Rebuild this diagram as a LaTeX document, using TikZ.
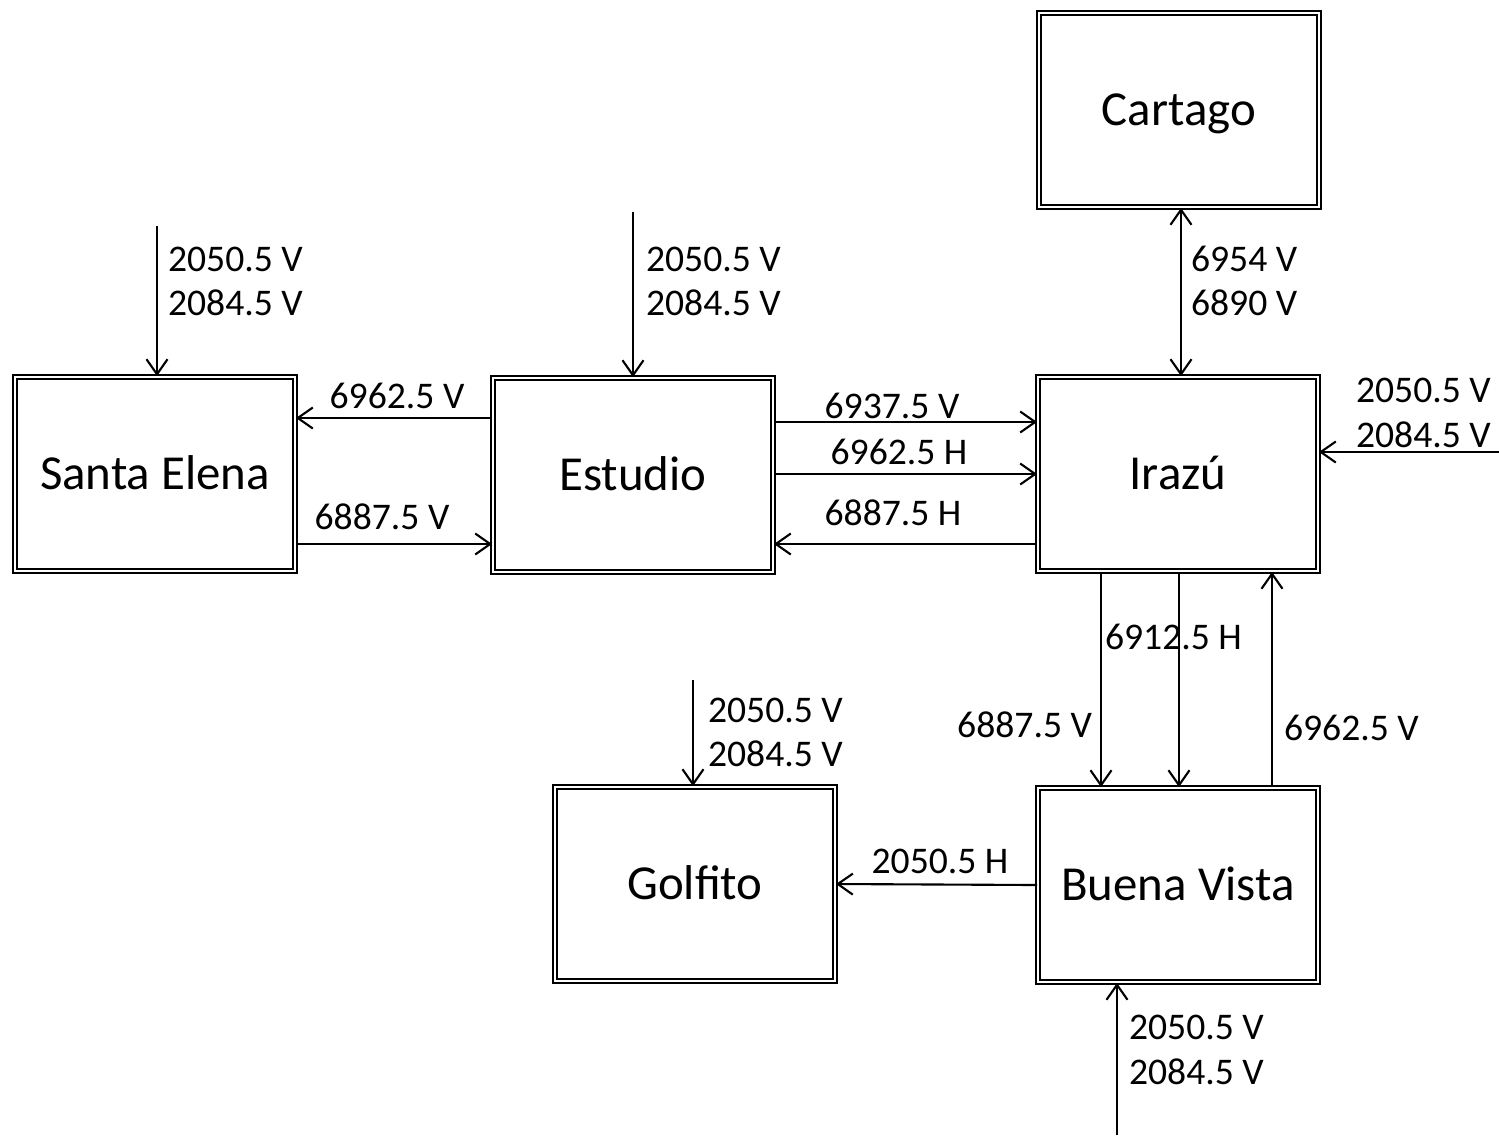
\documentclass[tikz,border=0pt]{standalone}
\usepackage{fontspec}
\setmainfont{Carlito}
\usepackage{tikz}
\usetikzlibrary{positioning,arrows.meta,calc}

\begin{document}
\begin{tikzpicture}[x=0.01cm,y=-0.01cm,line width=0.6pt,
  box/.style={draw,double,double distance=0.7pt,line width=0.5pt,minimum width=2.8cm,minimum height=1.94cm,text height=9pt,text depth=0pt,font=\fontsize{13.9}{16}\selectfont},
  lbl/.style={inner sep=0pt,font=\fontsize{10.7}{12}\selectfont},
  arr/.style={-{Straight Barb[length=1.5mm,width=2.1mm]}},
  darr/.style={{Straight Barb[length=1.5mm,width=2.1mm]}-{Straight Barb[length=1.5mm,width=2.1mm]}}]
\useasboundingbox (0,0) rectangle (1499,1135);
\node[box] (se) at (155,474) {Santa Elena};
\node[box] (est) at (633,475) {Estudio};
\node[box] (ira) at (1178,474) {Irazú};
\node[box] (car) at (1179,110) {Cartago};
\node[box] (gol) at (695,884) {Golfito};
\node[box] (bv) at (1178,885) {Buena Vista};
% free ends of the incoming links
\coordinate (inSE) at (157,226);
\coordinate (inEst) at (633,212);
\coordinate (inIra) at (1499,452);
\coordinate (inGol) at (693,680);
\coordinate (inBV) at (1117,1135);
\draw[arr] (inSE) -- (inSE |- se.north);
\draw[arr] (inEst) -- (inEst |- est.north);
\draw[arr] (inIra) -- (ira.east |- inIra);
\draw[arr] (inGol) -- (inGol |- gol.north);
\draw[arr] (inBV) -- (inBV |- bv.south);
\node[lbl,anchor=west] (se1) at (167,259) {2050.5 V};
\node[lbl,anchor=west] (se2) at (167,303) {2084.5 V};
\node[lbl,anchor=west] (es1) at (645,259) {2050.5 V};
\node[lbl,anchor=west] (es2) at (645,303) {2084.5 V};
\node[lbl,anchor=west] (ir1) at (1355,390) {2050.5 V};
\node[lbl,anchor=west] (ir2) at (1355,435) {2084.5 V};
\node[lbl,anchor=west] (go1) at (707,710) {2050.5 V};
\node[lbl,anchor=west] (go2) at (707,754) {2084.5 V};
\node[lbl,anchor=west] (bv1) at (1128,1027) {2050.5 V};
\node[lbl,anchor=west] (bv2) at (1128,1072) {2084.5 V};
% Santa Elena - Estudio
\draw[arr] (est.west |- 0,418) -- (se.east |- 0,418);
\draw[arr] (se.east |- 0,544) -- (est.west |- 0,544);
\node[lbl] (l1) at (397,396) {6962.5 V};
\node[lbl] (l2) at (382,517) {6887.5 V};
% Estudio - Irazu
\draw[arr] (est.east |- 0,422) -- (ira.west |- 0,422);
\draw[arr] (est.east |- 0,474) -- (ira.west |- 0,474);
\draw[arr] (ira.west |- 0,544) -- (est.east |- 0,544);
\node[lbl] (l3) at (892,406) {6937.5 V};
\node[lbl] (l4) at (899,452) {6962.5 H};
\node[lbl] (l5) at (893,513) {6887.5 H};
% Cartago - Irazu
\draw[darr] (car.south -| 1181,0) -- (ira.north -| 1181,0);
\node[lbl,anchor=west] (l6) at (1190,259) {6954 V};
\node[lbl,anchor=west] (l7) at (1190,303) {6890 V};
% Irazu - Buena Vista
\draw[arr] (ira.south -| 1101,0) -- (bv.north -| 1101,0);
\draw[arr] (ira.south -| 1179,0) -- (bv.north -| 1179,0);
\draw[arr] (bv.north -| 1272,0) -- (ira.south -| 1272,0);
\node[lbl,anchor=east] (l8) at (1093,725) {6887.5 V};
\node[lbl,anchor=west] (l9) at (1104,637) {6912.5 H};
\node[lbl,anchor=west] (l10) at (1283,728) {6962.5 V};
% Buena Vista - Golfito
\draw[arr] (bv.west) -- (gol.east);
\node[lbl] (l11) at (940,861) {2050.5 H};
\end{tikzpicture}
\end{document}
